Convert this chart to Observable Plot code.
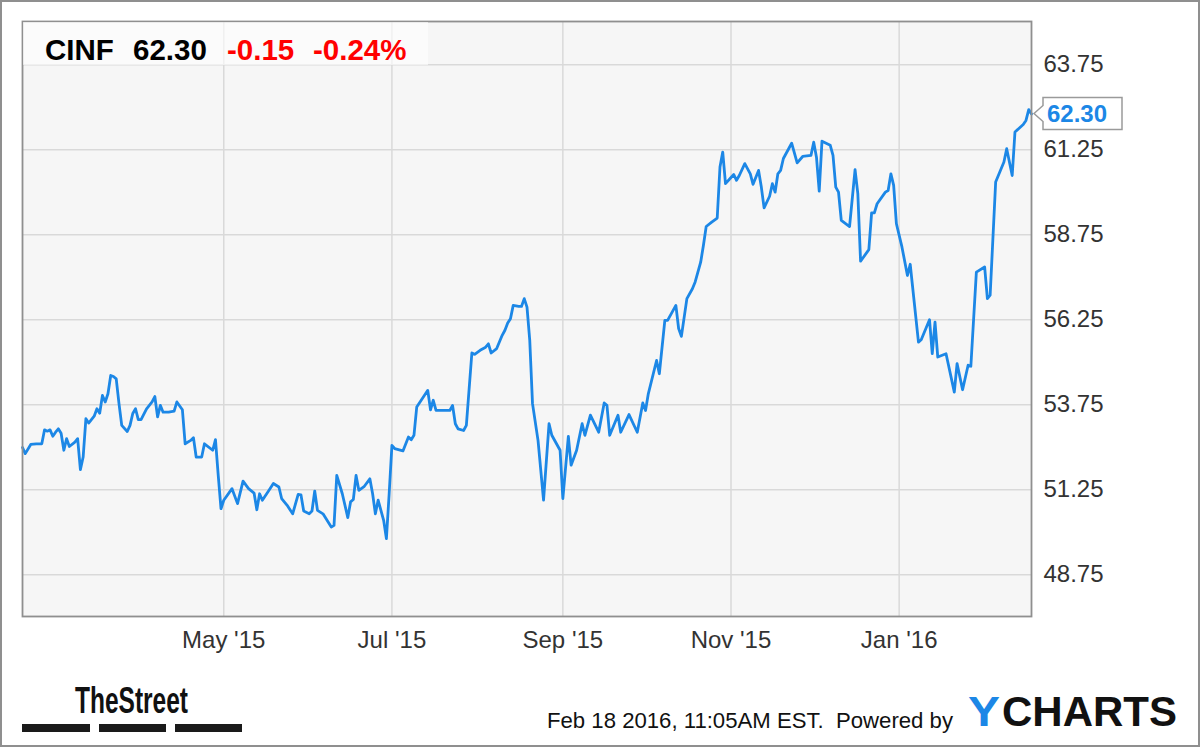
<!DOCTYPE html>
<html>
<head>
<meta charset="utf-8">
<script src="https://cdn.jsdelivr.net/npm/d3@7"></script>
<script src="https://cdn.jsdelivr.net/npm/@observablehq/plot@0.6"></script>
<style>
  html, body { margin: 0; padding: 0; background: #fff; overflow: hidden; }
  #wrap { position: relative; width: 1200px; height: 747px; background: #fff; overflow: hidden; }
  #chart { position: absolute; left: 0; top: 0; }
  #overlay { position: absolute; left: 0; top: 0; pointer-events: none; }
  #chart svg { background: transparent !important; }
</style>
</head>
<body>
<div id="wrap">
  <div id="chart"></div>
  <svg id="overlay" width="1200" height="747"></svg>
</div>
<script>
// ---- data ----
const ticker = "CINF";
const lastLabel = "62.30";
const changeLabel = "-0.15";
const pctLabel = "-0.24%";
const lastPrice = 62.30;
const stampText = "Feb 18 2016, 11:05AM EST.  Powered by";

const yTicks = [48.75, 51.25, 53.75, 56.25, 58.75, 61.25, 63.75];
const monthTicks = ["2015-05-01", "2015-07-01", "2015-09-01", "2015-11-01", "2016-01-01"];
const monthLabels = ["May '15", "Jul '15", "Sep '15", "Nov '15", "Jan '16"];

const dates = [
  "2015-02-17","2015-02-18","2015-02-20","2015-02-22","2015-02-24","2015-02-25","2015-02-26","2015-02-27","2015-02-28",
  "2015-03-01","2015-03-02","2015-03-03","2015-03-04","2015-03-05","2015-03-06","2015-03-08","2015-03-09","2015-03-10",
  "2015-03-11","2015-03-12","2015-03-13","2015-03-15","2015-03-16","2015-03-17","2015-03-18","2015-03-19","2015-03-20",
  "2015-03-21","2015-03-22","2015-03-23","2015-03-24","2015-03-25","2015-03-27","2015-03-28","2015-03-29","2015-03-30",
  "2015-03-31","2015-04-01","2015-04-03","2015-04-05","2015-04-06","2015-04-07","2015-04-08","2015-04-09","2015-04-11",
  "2015-04-13","2015-04-14","2015-04-16","2015-04-17","2015-04-19","2015-04-20","2015-04-21","2015-04-23","2015-04-24",
  "2015-04-27","2015-04-28","2015-04-29","2015-04-30","2015-05-01","2015-05-04","2015-05-06","2015-05-08","2015-05-10",
  "2015-05-12","2015-05-13","2015-05-14","2015-05-15","2015-05-17","2015-05-19","2015-05-21","2015-05-22","2015-05-24",
  "2015-05-26","2015-05-28","2015-05-29","2015-05-30","2015-06-01","2015-06-02","2015-06-03","2015-06-04","2015-06-06",
  "2015-06-09","2015-06-10","2015-06-11","2015-06-13","2015-06-15","2015-06-16","2015-06-17","2015-06-18","2015-06-19",
  "2015-06-21","2015-06-23","2015-06-24","2015-06-25","2015-06-26","2015-06-28","2015-06-29","2015-06-30","2015-07-01",
  "2015-07-02","2015-07-05","2015-07-07","2015-07-08","2015-07-09","2015-07-10","2015-07-13","2015-07-14","2015-07-15",
  "2015-07-16","2015-07-17","2015-07-20","2015-07-22","2015-07-23","2015-07-24","2015-07-25","2015-07-27","2015-07-28",
  "2015-07-30","2015-07-31","2015-08-02","2015-08-04","2015-08-05","2015-08-06","2015-08-08","2015-08-10","2015-08-11",
  "2015-08-12","2015-08-13","2015-08-14","2015-08-16","2015-08-17","2015-08-18","2015-08-19","2015-08-20","2015-08-21",
  "2015-08-23","2015-08-25","2015-08-27","2015-08-28","2015-08-31","2015-09-01","2015-09-03","2015-09-04","2015-09-06",
  "2015-09-08","2015-09-09","2015-09-11","2015-09-14","2015-09-16","2015-09-17","2015-09-18","2015-09-21","2015-09-22",
  "2015-09-25","2015-09-28","2015-09-30","2015-10-01","2015-10-02","2015-10-05","2015-10-06","2015-10-08","2015-10-09",
  "2015-10-12","2015-10-13","2015-10-14","2015-10-16","2015-10-18","2015-10-19","2015-10-21","2015-10-22","2015-10-23",
  "2015-10-25","2015-10-27","2015-10-28","2015-10-29","2015-10-30","2015-11-01","2015-11-02","2015-11-03","2015-11-04",
  "2015-11-06","2015-11-08","2015-11-09","2015-11-11","2015-11-12","2015-11-13","2015-11-15","2015-11-16","2015-11-17",
  "2015-11-18","2015-11-19","2015-11-20","2015-11-23","2015-11-25","2015-11-27","2015-11-30","2015-12-01","2015-12-02",
  "2015-12-03","2015-12-04","2015-12-07","2015-12-08","2015-12-09","2015-12-10","2015-12-11","2015-12-14","2015-12-16",
  "2015-12-17","2015-12-18","2015-12-21","2015-12-22","2015-12-23","2015-12-24","2015-12-27","2015-12-28","2015-12-29",
  "2015-12-30","2015-12-31","2016-01-02","2016-01-04","2016-01-05","2016-01-08","2016-01-09","2016-01-12","2016-01-13",
  "2016-01-14","2016-01-15","2016-01-18","2016-01-21","2016-01-22","2016-01-24","2016-01-26","2016-01-27","2016-01-29",
  "2016-02-01","2016-02-02","2016-02-03","2016-02-05","2016-02-08","2016-02-09","2016-02-11","2016-02-12","2016-02-15",
  "2016-02-16","2016-02-17","2016-02-18"
];

const prices = [
  52.49,52.31,52.58,52.60,52.60,53.01,52.97,53.01,52.82,
  52.94,53.04,52.91,52.41,52.75,52.52,52.65,52.75,51.84,
  52.21,53.34,53.21,53.41,53.63,53.50,54.02,53.83,54.07,
  54.61,54.58,54.51,53.78,53.14,52.96,53.14,53.49,53.63,
  53.31,53.31,53.63,53.83,53.99,53.39,53.73,53.53,53.53,
  53.56,53.83,53.60,52.60,52.70,52.78,52.21,52.21,52.60,
  52.41,52.72,51.67,50.69,50.94,51.28,50.84,51.50,51.28,
  51.15,50.66,51.13,50.94,51.18,51.43,51.33,50.99,50.79,
  50.54,51.11,51.10,50.62,50.54,50.62,51.21,50.64,50.54,
  50.15,50.20,51.67,51.13,50.43,50.89,50.96,51.67,51.23,
  51.35,51.57,51.13,50.54,50.94,50.35,49.81,51.13,52.55,
  52.46,52.39,52.80,52.72,52.85,53.68,54.05,54.17,53.60,
  53.88,53.58,53.58,53.58,53.73,53.19,53.04,52.99,53.14,
  55.27,55.23,55.35,55.44,55.54,55.27,55.40,55.79,55.94,
  56.15,56.28,56.67,56.64,56.64,56.87,56.62,55.64,53.78,
  52.70,50.94,53.19,52.85,52.41,50.99,52.82,51.97,52.41,
  53.19,52.85,53.44,52.94,53.80,53.73,52.85,53.44,52.94,
  53.46,52.94,53.80,53.58,54.07,55.05,54.66,56.23,56.23,
  56.67,55.99,55.76,56.87,57.16,57.36,57.94,58.44,58.99,
  59.12,59.24,60.74,61.18,60.25,60.43,60.52,60.35,60.49,
  60.84,60.54,60.23,60.64,60.15,59.54,59.88,60.25,60.00,
  60.54,60.64,60.99,61.44,60.86,61.05,61.08,61.47,61.03,
  60.03,61.50,61.38,61.08,60.15,60.00,59.17,58.99,60.66,
  59.96,57.97,58.31,59.39,59.39,59.66,60.00,60.05,60.54,
  60.20,59.07,58.39,57.55,57.88,55.59,55.66,56.25,55.25,
  56.18,55.15,55.25,54.12,54.96,54.19,54.91,54.88,57.65,
  57.80,56.87,56.97,60.30,60.89,61.28,60.49,61.77,61.99,
  62.11,62.43,62.30
];

// ---- build table for the library ----
const data = dates.map((d, i) => ({date: new Date(d), price: prices[i]}));
const monthDates = monthTicks.map(d => new Date(d));

const lineColor = "#1c87e6";
const gridColor = "#d9d9d9";
const textColor = "#333333";

function valueTag(index, scales, values, dimensions) {
  const y = scales.y(lastPrice);
  const x0 = dimensions.width - dimensions.marginRight;
  const g = d3.create("svg:g");
  g.append("path")
    .attr("d", `M${x0 + 3},${y} L${x0 + 12},${y - 8} L${x0 + 12},${y - 16} L${x0 + 91},${y - 16} L${x0 + 91},${y + 16} L${x0 + 12},${y + 16} L${x0 + 12},${y + 8} Z`)
    .attr("fill", "#ffffff")
    .attr("stroke", "#9a9a9a")
    .attr("stroke-width", 1.5);
  g.append("text")
    .attr("x", x0 + 16)
    .attr("y", y)
    .attr("dy", "0.36em")
    .attr("text-anchor", "start")
    .attr("font-weight", "bold")
    .attr("font-size", 24)
    .attr("fill", lineColor)
    .text(lastLabel);
  return g.node();
}

const chart = Plot.plot({
  width: 1200,
  height: 680,
  marginLeft: 22,
  marginRight: 169,
  marginTop: 21,
  marginBottom: 64,
  style: {
    fontFamily: "'Liberation Sans', Arial, sans-serif",
    fontSize: "24px",
    color: textColor,
    background: "transparent"
  },
  x: {
    type: "utc",
    domain: [new Date("2015-02-17"), new Date("2016-02-18")],
    ticks: monthDates,
    tickFormat: d => monthLabels[monthDates.findIndex(t => +t === +d)],
    tickSize: 0,
    tickPadding: 14,
    label: null
  },
  y: {
    domain: [47.52, 65.02],
    axis: "right",
    ticks: yTicks,
    tickFormat: d => d.toFixed(2),
    tickSize: 0,
    tickPadding: 12,
    label: null
  },
  marks: [
    Plot.frame({fill: "#f6f6f6", stroke: null}),
    Plot.ruleY(yTicks, {stroke: gridColor, strokeWidth: 1.5}),
    Plot.ruleX(monthDates, {stroke: gridColor, strokeWidth: 1.5}),
    Plot.lineY(data, {x: "date", y: "price", stroke: lineColor, strokeWidth: 2.8, strokeLinejoin: "round"}),
    Plot.frame({stroke: "#8f8f8f", strokeWidth: 1.8}),
    valueTag
  ]
});
document.getElementById("chart").appendChild(chart);

// ---- header, footer and border (overlay) ----
const ov = d3.select("#overlay");
const font = "'Liberation Sans', Arial, sans-serif";
const narrow = "'Liberation Sans Narrow', 'Liberation Sans', Arial, sans-serif";

ov.append("rect").attr("x", 23).attr("y", 22).attr("width", 405).attr("height", 43)
  .attr("fill", "#ffffff").attr("fill-opacity", 0.6);

const header = [
  {t: ticker, x: 45, c: "#000000"},
  {t: lastLabel, x: 133, c: "#000000"},
  {t: changeLabel, x: 227, c: "#ff0000"},
  {t: pctLabel, x: 313, c: "#ff0000"}
];
header.forEach(h => {
  ov.append("text").attr("x", h.x).attr("y", 60)
    .attr("font-family", font).attr("font-weight", "bold").attr("font-size", 29.5)
    .attr("fill", h.c).text(h.t);
});

// TheStreet logo
ov.append("text").attr("x", 75).attr("y", 713)
  .attr("font-family", narrow).attr("font-weight", "bold").attr("font-size", 36)
  .attr("textLength", 113).attr("lengthAdjust", "spacingAndGlyphs")
  .attr("fill", "#111").text("TheStreet");
[[22, 68], [99, 67], [175, 67]].forEach(([x, w]) => {
  ov.append("rect").attr("x", x).attr("y", 724).attr("width", w).attr("height", 8).attr("fill", "#1a1a1a");
});

// timestamp
ov.append("text").attr("x", 547).attr("y", 728)
  .attr("font-family", font).attr("font-size", 21.5)
  .attr("textLength", 406).attr("lengthAdjust", "spacingAndGlyphs")
  .attr("fill", "#111").attr("xml:space", "preserve").text(stampText);

// YCHARTS logo
ov.append("text").attr("x", 968).attr("y", 726)
  .attr("font-family", font).attr("font-weight", "bold").attr("font-size", 43)
  .attr("textLength", 32).attr("lengthAdjust", "spacingAndGlyphs")
  .attr("fill", lineColor).text("Y");
ov.append("text").attr("x", 1002).attr("y", 726)
  .attr("font-family", font).attr("font-weight", "bold").attr("font-size", 43)
  .attr("textLength", 175).attr("lengthAdjust", "spacingAndGlyphs")
  .attr("fill", "#111").text("CHARTS");

// outer border
ov.append("rect").attr("x", 1).attr("y", 1).attr("width", 1198).attr("height", 745)
  .attr("fill", "none").attr("stroke", "#8f8f8f").attr("stroke-width", 2);
</script>
</body>
</html>
